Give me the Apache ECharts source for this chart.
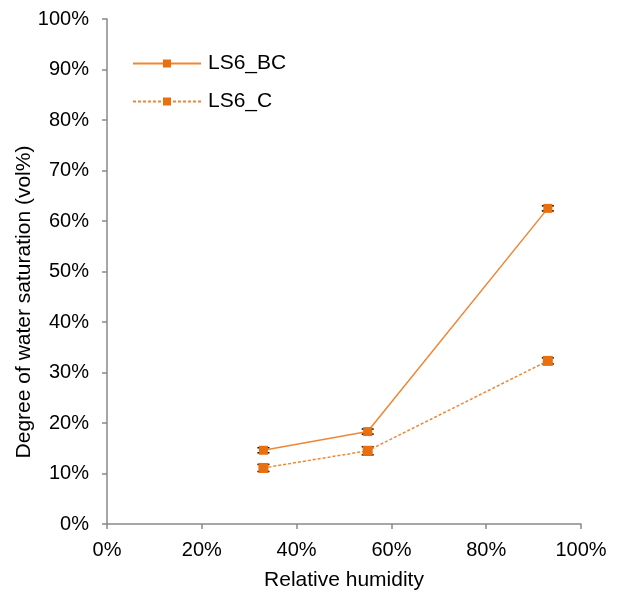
<!DOCTYPE html>
<html>
<head>
<meta charset="utf-8">
<script src="https://cdn.jsdelivr.net/npm/echarts@6/dist/echarts.min.js"></script>
<style>
  html, body { margin: 0; padding: 0; background: #fff; }
  #chart { width: 619px; height: 596px; }
</style>
</head>
<body>
<div id="chart"></div>
<script>
// Relative humidity (%) at which saturation was measured
const humidity = [33, 55, 93];
// Degree of water saturation (vol%) for each sample
const ls6bc = [14.6, 18.3, 62.5];
const ls6c = [11.1, 14.5, 32.3];
// Standard deviations (vol%)
const ls6bcErr = [0.5, 0.5, 0.5];
const ls6cErr = [0.7, 0.8, 0.6];
const seriesNames = ['LS6_BC', 'LS6_C'];
const xTitle = 'Relative humidity';
const yTitle = 'Degree of water saturation (vol%)';

const orange = '#E8700F';
const lineOrange = '#EF8633';
const font = 'Liberation Sans, Arial, sans-serif';
const gray = '#898989';

function pairs(ys) { return humidity.map((x, i) => [x, ys[i]]); }
function errData(ys, es) { return humidity.map((x, i) => [x, ys[i] - es[i], ys[i] + es[i]]); }

// Vertical error bars with short caps, drawn beneath the markers
function errorBars(ys, es) {
  return {
    type: 'custom',
    data: errData(ys, es),
    z: 1,
    silent: true,
    renderItem: function (params, api) {
      const lo = api.coord([api.value(0), api.value(1)]);
      const hi = api.coord([api.value(0), api.value(2)]);
      const w = 6;
      const style = { stroke: '#000', lineWidth: 1.5 };
      return {
        type: 'group',
        children: [
          { type: 'line', shape: { x1: lo[0], y1: lo[1], x2: hi[0], y2: hi[1] }, style },
          { type: 'line', shape: { x1: lo[0] - w, y1: lo[1], x2: lo[0] + w, y2: lo[1] }, style },
          { type: 'line', shape: { x1: hi[0] - w, y1: hi[1], x2: hi[0] + w, y2: hi[1] }, style }
        ]
      };
    }
  };
}

const chart = echarts.init(document.getElementById('chart'), null, { renderer: 'canvas' });
const tickStyle = { show: true, length: 5, lineStyle: { color: gray, width: 1.5 } };
chart.setOption({
  animation: false,
  textStyle: { fontFamily: font },
  grid: { left: 107, right: 38, top: 19, bottom: 70 },
  legend: {
    left: 132, top: 53, orient: 'vertical', padding: 0,
    itemWidth: 68, itemHeight: 10, itemGap: 17,
    textStyle: { fontSize: 21, color: '#000', fontFamily: font, padding: [0, 0, 0, 2] },
    data: seriesNames
  },
  graphic: [{
    type: 'text',
    x: 24, y: 302,
    rotation: Math.PI / 2,
    style: {
      text: yTitle, fontSize: 21, fontFamily: font, fill: '#000',
      align: 'center', verticalAlign: 'middle'
    }
  }],
  xAxis: {
    type: 'value', min: 0, max: 100, interval: 20,
    name: xTitle, nameLocation: 'middle', nameGap: 46,
    nameTextStyle: { fontSize: 21, color: '#000', fontFamily: font },
    axisLine: { lineStyle: { color: gray, width: 1.5 } },
    axisTick: tickStyle,
    axisLabel: { fontSize: 20, color: '#000', margin: 16, formatter: v => v + '%' },
    splitLine: { show: false }
  },
  yAxis: {
    type: 'value', min: 0, max: 100, interval: 10,
    axisLine: { show: true, lineStyle: { color: gray, width: 1.5 } },
    axisTick: tickStyle,
    axisLabel: { fontSize: 20, color: '#000', margin: 18, formatter: v => v + '%' },
    splitLine: { show: false }
  },
  series: [
    errorBars(ls6bc, ls6bcErr),
    errorBars(ls6c, ls6cErr),
    {
      name: seriesNames[0], type: 'line', data: pairs(ls6bc), z: 3,
      symbol: 'rect', symbolSize: 9,
      itemStyle: { color: orange },
      lineStyle: { color: lineOrange, width: 1.5, type: 'solid' }
    },
    {
      name: seriesNames[1], type: 'line', data: pairs(ls6c), z: 3,
      symbol: 'rect', symbolSize: 10,
      itemStyle: { color: orange },
      lineStyle: { color: lineOrange, width: 1.5, type: [3, 2] }
    }
  ]
});
</script>
</body>
</html>
